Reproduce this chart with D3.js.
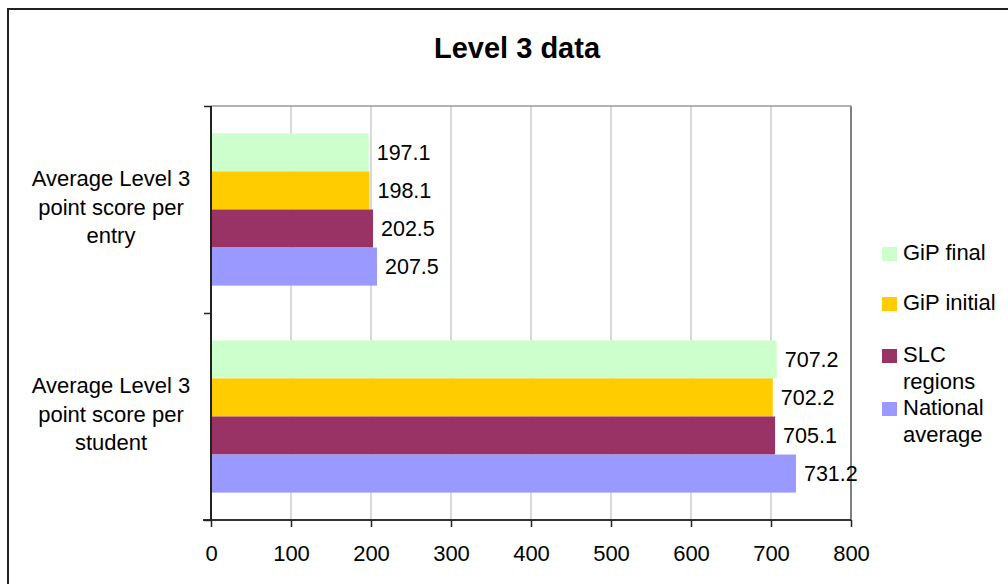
<!DOCTYPE html>
<html>
<head>
<meta charset="utf-8">
<script src="https://cdn.jsdelivr.net/npm/d3@7"></script>
<style>
  html, body { margin: 0; padding: 0; background: #fff; }
  svg { display: block; font-family: Arial, "Liberation Sans", sans-serif; }
</style>
</head>
<body>
<svg id="chart" width="1008" height="584"></svg>
<script>
const title = "Level 3 data";
const categories = [
  ["Average Level 3", "point score per", "entry"],
  ["Average Level 3", "point score per", "student"]
];
const categoryKeys = ["entry", "student"];
const series = ["GiP final", "GiP initial", "SLC regions", "National average"];
const legendLines = [["GiP final"], ["GiP initial"], ["SLC", "regions"], ["National", "average"]];
const colors = ["#CCFFCC", "#FFCC00", "#993366", "#9999FF"];
const gipFinal = [197.1, 707.2];
const gipInitial = [198.1, 702.2];
const slcRegions = [202.5, 705.1];
const nationalAverage = [207.5, 731.2];
const xTicks = [0, 100, 200, 300, 400, 500, 600, 700, 800];

const values = [gipFinal, gipInitial, slcRegions, nationalAverage];

const svg = d3.select("#chart");
const pLeft = 211, pRight = 851, pTop = 106, pBottom = 520;

// outer frame
svg.append("rect").attr("x", 8).attr("y", 9).attr("width", 1100).attr("height", 700)
  .attr("fill", "#fff").attr("stroke", "#222").attr("stroke-width", 2);

svg.append("text").attr("x", 517).attr("y", 58).attr("text-anchor", "middle")
  .attr("font-size", 29).attr("font-weight", "bold").text(title);

const x = d3.scaleLinear().domain([0, 800]).range([pLeft, pRight]);
const y0 = d3.scaleBand().domain(categoryKeys).range([pTop, pBottom]).padding(0);
const y1 = d3.scaleBand().domain(series).range([0, y0.bandwidth()]).paddingInner(0).paddingOuter(0.72);

// gridlines
svg.append("g").selectAll("line").data(xTicks.slice(1)).join("line")
  .attr("x1", d => x(d)).attr("x2", d => x(d)).attr("y1", pTop).attr("y2", pBottom)
  .attr("stroke", d => d === 800 ? "#808080" : "#cccccc").attr("stroke-width", d => d === 800 ? 2 : 1.5);
svg.append("line").attr("x1", pLeft).attr("x2", pRight).attr("y1", pTop).attr("y2", pTop)
  .attr("stroke", "#999").attr("stroke-width", 1.5);

// bars
const groups = svg.append("g").selectAll("g").data(categoryKeys).join("g")
  .attr("transform", d => `translate(0,${y0(d)})`);
groups.each(function(cat, ci) {
  const g = d3.select(this);
  series.forEach((s, si) => {
    const v = values[si][ci];
    g.append("rect").attr("x", x(0)).attr("y", y1(s)).attr("width", x(v) - x(0))
      .attr("height", y1.bandwidth()).attr("fill", colors[si]);
    g.append("text").attr("x", x(v) + 8).attr("y", y1(s) + y1.bandwidth() / 2)
      .attr("dy", "0.36em").attr("font-size", 21.5).attr("fill", "#000").text(v.toFixed(1));
  });
});

// x axis
const xAxis = d3.axisBottom(x).tickValues(xTicks).tickSize(7).tickPadding(18).tickFormat(d3.format("d"));
const gx = svg.append("g").attr("transform", `translate(0,${pBottom})`).call(xAxis);
gx.select(".domain").attr("stroke", "#333").attr("stroke-width", 2).attr("d", `M${pLeft - 8},0H${pRight}`);
gx.selectAll(".tick line").attr("stroke", "#222").attr("stroke-width", 1.5);
gx.selectAll(".tick text").attr("font-size", 22).attr("font-family", "Arial, 'Liberation Sans', sans-serif").attr("fill", "#000");

// y axis
const yBounds = d3.scaleLinear().domain([0, 2]).range([pTop, pBottom]);
const yAxis = d3.axisLeft(yBounds).tickValues([0, 1, 2]).tickSize(7).tickFormat("");
const gy = svg.append("g").attr("transform", `translate(${pLeft},0)`).call(yAxis);
gy.select(".domain").attr("stroke", "#222").attr("stroke-width", 2).attr("d", `M0,${pTop}V${pBottom}`);
gy.selectAll(".tick line").attr("stroke", "#222").attr("stroke-width", 1.5);

// category labels
categoryKeys.forEach((k, i) => {
  const cy = y0(k) + y0.bandwidth() / 2;
  const t = svg.append("text").attr("text-anchor", "middle").attr("font-size", 22);
  categories[i].forEach((line, li) => {
    t.append("tspan").attr("x", 111).attr("y", cy + 5 + (li - 1) * 28.5).text(line);
  });
});

// legend
const legendY = [260, 310, 362, 415];
legendLines.forEach((lines, i) => {
  svg.append("rect").attr("x", 882).attr("y", legendY[i] - 13).attr("width", 15).attr("height", 14)
    .attr("fill", colors[i]);
  const t = svg.append("text").attr("font-size", 22);
  lines.forEach((line, li) => {
    t.append("tspan").attr("x", 903).attr("y", legendY[i] + li * 27).text(line);
  });
});
</script>
</body>
</html>
